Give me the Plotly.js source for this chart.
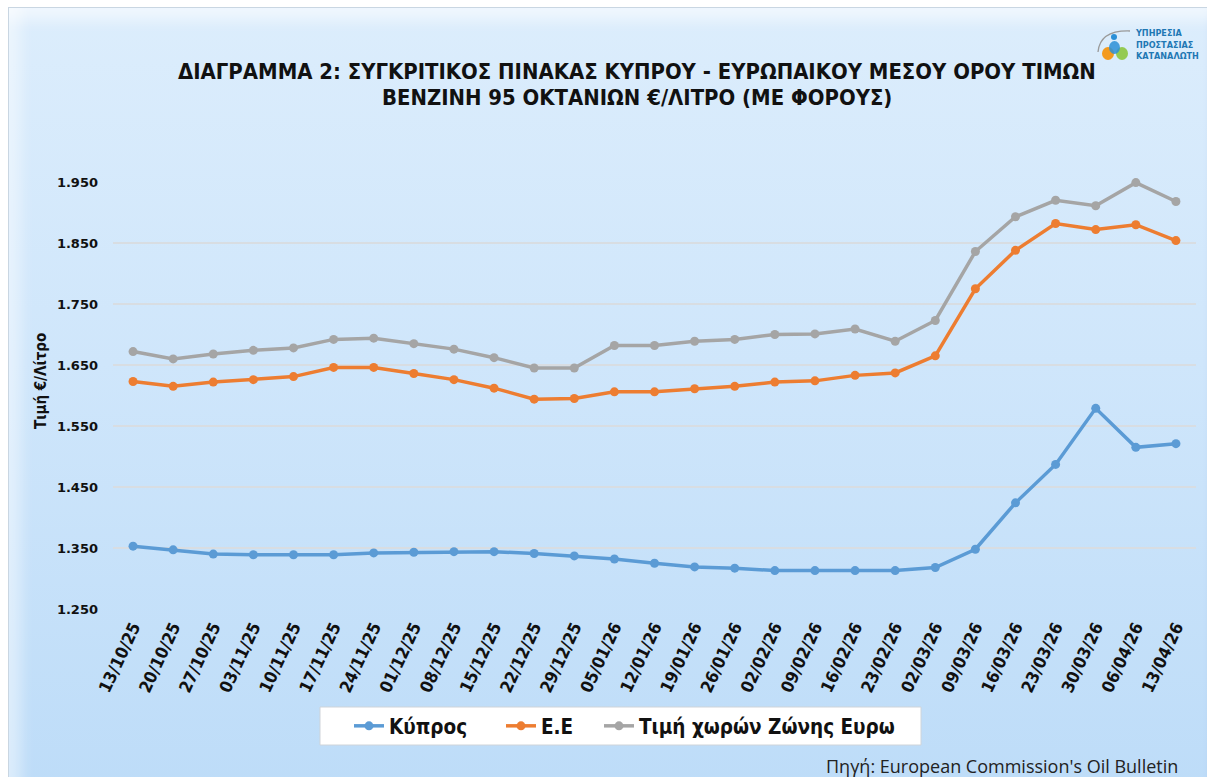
<!DOCTYPE html>
<html>
<head>
<meta charset="utf-8">
<script src="https://cdn.plot.ly/plotly-3.0.1.min.js"></script>
<style>
  html, body { margin: 0; padding: 0; background: #ffffff; width: 1207px; height: 777px; overflow: hidden; }
  #card {
    position: absolute; left: 8px; top: 7px; width: 1210px; height: 790px;
    background: linear-gradient(to bottom, #dcedfc 0%, #cfe6fb 45%, #bddcf8 100%);
    border: 1px solid #c9d6e2;
    box-shadow: inset 22px 0 14px -10px rgba(255,255,255,0.45), inset 0 22px 14px -10px rgba(255,255,255,0.55), inset -14px 0 10px -8px rgba(120,160,200,0.35);
  }
  #chart { position: absolute; left: 0; top: 0; width: 1207px; height: 777px; }
</style>
</head>
<body>
<div id="card"></div>
<div id="chart"></div>
<script>
const dates = ["13/10/25","20/10/25","27/10/25","03/11/25","10/11/25","17/11/25","24/11/25","01/12/25","08/12/25","15/12/25","22/12/25","29/12/25","05/01/26","12/01/26","19/01/26","26/01/26","02/02/26","09/02/26","16/02/26","23/02/26","02/03/26","09/03/26","16/03/26","23/03/26","30/03/26","06/04/26","13/04/26"];

const cyprus = [1.353,1.347,1.340,1.339,1.339,1.339,1.342,1.343,1.344,1.344,1.341,1.337,1.332,1.325,1.319,1.317,1.313,1.313,1.313,1.313,1.318,1.348,1.424,1.487,1.579,1.515,1.521];

const eu = [1.623,1.615,1.622,1.626,1.631,1.646,1.646,1.636,1.626,1.612,1.594,1.595,1.606,1.606,1.611,1.615,1.622,1.624,1.633,1.637,1.665,1.775,1.838,1.882,1.872,1.880,1.854];

const eurozone = [1.672,1.660,1.668,1.674,1.678,1.692,1.694,1.685,1.676,1.662,1.645,1.645,1.682,1.682,1.689,1.692,1.700,1.701,1.709,1.689,1.723,1.836,1.893,1.920,1.911,1.949,1.918];

const seriesNames = ["Κύπρος", "Ε.Ε", "Τιμή χωρών Ζώνης Ευρω"];
const yTicks = [1.25, 1.35, 1.45, 1.55, 1.65, 1.75, 1.85, 1.95];
const yTickText = ["1.250","1.350","1.450","1.550","1.650","1.750","1.850","1.950"];
const titleLines = ["ΔΙΑΓΡΑΜΜΑ 2: ΣΥΓΚΡΙΤΙΚΟΣ ΠΙΝΑΚΑΣ ΚΥΠΡΟΥ - ΕΥΡΩΠΑΙΚΟΥ ΜΕΣΟΥ ΟΡΟΥ ΤΙΜΩΝ", "ΒΕΝΖΙΝΗ 95 ΟΚΤΑΝΙΩΝ €/ΛΙΤΡΟ (ΜΕ ΦΟΡΟΥΣ)"];

const NARROW = "Liberation Sans Narrow, DejaVu Sans Condensed, Roboto, sans-serif";

// pixel -> paper helpers (plot area: x 113..1196, y 182..609)
const PL = 113, PW = 1083, PB = 609, PH = 427;
const px = v => (v - PL) / PW;
const py = v => (PB - v) / PH;

function mk(y, name, color, legendId) {
  return {
    x: dates, y: y, name: name, type: "scatter", mode: "lines+markers",
    line: { color: color, width: 3.5 },
    marker: { color: color, size: 9 },
    cliponaxis: false,
    legend: legendId,
    hoverinfo: "x+y+name"
  };
}

const data = [
  mk(cyprus, seriesNames[0], "#5b9bd5", "legend"),
  mk(eu, seriesNames[1], "#ed7d31", "legend2"),
  mk(eurozone, seriesNames[2], "#a5a5a5", "legend3")
];

function leg(xpix) {
  return {
    orientation: "h",
    x: px(xpix), xanchor: "left",
    y: py(726), yanchor: "middle",
    bgcolor: "rgba(0,0,0,0)", borderwidth: 0,
    font: { family: NARROW, size: 20.5, color: "#111111", weight: "bold" },
    itemwidth: 30
  };
}

const layout = {
  width: 1207, height: 777,
  paper_bgcolor: "rgba(0,0,0,0)",
  plot_bgcolor: "rgba(0,0,0,0)",
  margin: { l: 113, r: 11, t: 182, b: 168 },
  showlegend: true,
  xaxis: {
    type: "category",
    range: [-0.5, 26.5],
    showgrid: false, zeroline: false, showline: false,
    ticks: "",
    tickangle: -65,
    ticklabelstandoff: 4,
    tickfont: { family: NARROW, size: 17, color: "#111111", weight: "bold" }
  },
  yaxis: {
    range: [1.25, 1.95],
    tickvals: yTicks, ticktext: yTickText,
    showgrid: true, gridcolor: "#d8dde2", gridwidth: 1.2,
    zeroline: false, showline: false, ticks: "",
    ticklabelstandoff: 14,
    tickfont: { family: "DejaVu Sans, Verdana, sans-serif", size: 13, color: "#111111", weight: "bold" }
  },
  legend: leg(349),
  legend2: leg(501),
  legend3: leg(599),
  annotations: [
    {
      text: "<b>" + titleLines[0] + "</b>",
      xref: "paper", yref: "paper", x: px(636.5), y: py(72),
      xanchor: "center", yanchor: "middle", showarrow: false,
      font: { family: NARROW, size: 21.9, color: "#111111" }
    },
    {
      text: "<b>" + titleLines[1] + "</b>",
      xref: "paper", yref: "paper", x: px(636.5), y: py(97),
      xanchor: "center", yanchor: "middle", showarrow: false,
      font: { family: NARROW, size: 21.9, color: "#111111" }
    },
    {
      text: "<b>Τιμή €/Λίτρο</b>",
      xref: "paper", yref: "paper", x: px(41), y: py(381),
      xanchor: "center", yanchor: "middle", showarrow: false, textangle: -90,
      font: { family: NARROW, size: 15, color: "#111111" }
    },
    {
      text: "Πηγή: European Commission's Oil Bulletin",
      xref: "paper", yref: "paper", x: px(1180), y: py(766),
      xanchor: "right", yanchor: "middle", showarrow: false,
      font: { family: "Open Sans, sans-serif", size: 18, color: "#222222" }
    },
    {
      text: "<b>ΥΠΗΡΕΣΙΑ<br>ΠΡΟΣΤΑΣΙΑΣ<br>ΚΑΤΑΝΑΛΩΤΗ</b>",
      xref: "paper", yref: "paper",
      x: px(1133), y: py(44),
      xanchor: "left", yanchor: "middle", align: "left", showarrow: false,
      font: { family: NARROW, size: 9, color: "#1f78b4" }
    }
  ],
  shapes: [
    { type: "rect", xref: "paper", yref: "paper", layer: "below",
      x0: px(320), x1: px(921), y0: py(745), y1: py(707),
      fillcolor: "#ffffff", line: { color: "#cfd4d9", width: 1 } },
    { type: "path", xref: "paper", yref: "paper",
      path: "M " + px(1098) + " " + py(52) + " Q " + px(1100) + " " + py(30) + " " + px(1130) + " " + py(31),
      line: { color: "#9a9a9a", width: 1.3 } },
    { type: "circle", xref: "paper", yref: "paper",
      x0: px(1102), x1: px(1114), y0: py(60), y1: py(47),
      fillcolor: "#f39a1e", line: { width: 0 } },
    { type: "circle", xref: "paper", yref: "paper",
      x0: px(1116), x1: px(1128), y0: py(60), y1: py(47),
      fillcolor: "#8cc63f", line: { width: 0 }, opacity: 0.9 },
    { type: "circle", xref: "paper", yref: "paper",
      x0: px(1109), x1: px(1120), y0: py(54), y1: py(41),
      fillcolor: "#2b8fd6", line: { width: 0 }, opacity: 0.85 },
    { type: "circle", xref: "paper", yref: "paper",
      x0: px(1111), x1: px(1117), y0: py(40), y1: py(34),
      fillcolor: "#2b8fd6", line: { width: 0 } }
  ]
};

Plotly.newPlot("chart", data, layout, { displayModeBar: false, staticPlot: true });
</script>
</body>
</html>
